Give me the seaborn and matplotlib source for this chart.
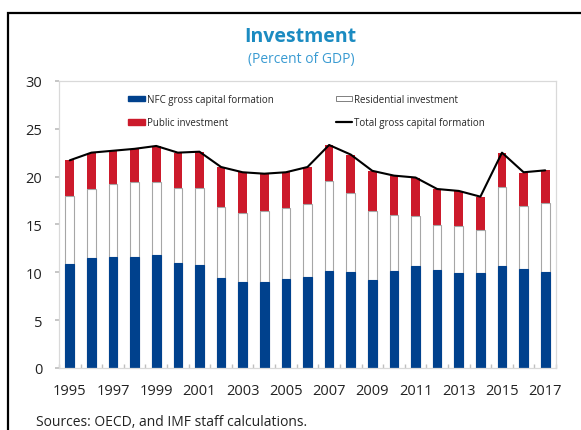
import numpy as np
import pandas as pd
import seaborn as sns
import matplotlib.pyplot as plt
from matplotlib.patches import Patch, Rectangle
from matplotlib.lines import Line2D
from matplotlib.ticker import MultipleLocator

# data (percent of GDP)
years = list(range(1995, 2018))
nfc = [10.9, 11.5, 11.6, 11.6, 11.8, 11.0, 10.8, 9.4, 9.0, 9.0, 9.3, 9.5,
       10.1, 10.0, 9.2, 10.1, 10.7, 10.2, 9.9, 9.9, 10.7, 10.3, 10.0]
residential = [7.1, 7.2, 7.6, 7.8, 7.6, 7.8, 8.0, 7.4, 7.2, 7.4, 7.4, 7.6,
               9.4, 8.3, 7.2, 5.9, 5.2, 4.7, 4.9, 4.5, 8.2, 6.6, 7.2]
public = [3.7, 3.8, 3.5, 3.5, 3.8, 3.7, 3.8, 4.2, 4.3, 3.9, 3.8, 3.9,
          3.8, 4.0, 4.2, 4.1, 4.0, 3.8, 3.7, 3.5, 3.6, 3.5, 3.5]
total = [21.7, 22.5, 22.7, 22.9, 23.2, 22.5, 22.6, 21.0, 20.45, 20.3, 20.45, 21.0,
         23.3, 22.3, 20.6, 20.1, 19.9, 18.7, 18.5, 17.9, 22.5, 20.45, 20.65]

BLUE = '#00418d'
RED = '#cc1a2b'
EDGE = '#a6a6a6'
TITLE_BLUE = '#1b8bc1'

df = pd.DataFrame({'year': years, 'nfc': nfc, 'res': residential,
                   'pub': public, 'total': total})
df['top_res'] = df['nfc'] + df['res']
df['top_pub'] = df['top_res'] + df['pub']

sns.set_theme(style="white")
plt.rcParams['font.family'] = ['Open Sans', 'DejaVu Sans']

fig, ax = plt.subplots(figsize=(5.81, 4.31), dpi=100)
fig.subplots_adjust(left=0.1015, right=0.957, bottom=0.144, top=0.81)

# stacked bars drawn as overlaid cumulative bars
sns.barplot(data=df, x='year', y='top_pub', native_scale=True, width=0.4,
            color=RED, saturation=1, linewidth=0, ax=ax)
sns.barplot(data=df, x='year', y='top_res', native_scale=True, width=0.4,
            color='white', saturation=1, edgecolor=EDGE, linewidth=0.8, ax=ax)
sns.barplot(data=df, x='year', y='nfc', native_scale=True, width=0.4,
            color=BLUE, saturation=1, edgecolor=BLUE, linewidth=0.8, ax=ax)
sns.lineplot(data=df, x='year', y='total', color='black', linewidth=1.5, ax=ax)

ax.set_xlim(1994.5, 2017.5)
ax.set_ylim(0, 30)
ax.set_xticks(years[::2])
ax.xaxis.set_minor_locator(MultipleLocator(1, offset=0.5))
ax.set_yticks(range(0, 31, 5))
ax.set_xlabel('')
ax.set_ylabel('')
ax.tick_params(axis='x', which='major', length=0, pad=11, labelsize=10.5, colors='#222222')
ax.tick_params(axis='x', which='minor', length=3, direction='in', color='#bfbfbf', bottom=True)
ax.tick_params(axis='y', length=3, direction='out', color='#bfbfbf', pad=9,
               labelsize=10.5, labelcolor='#222222', left=True)
for s in ax.spines.values():
    s.set_color('#d9d9d9')
    s.set_linewidth(0.9)

handles = [Patch(facecolor=BLUE, edgecolor=BLUE),
           Patch(facecolor=RED, edgecolor=RED),
           Patch(facecolor='white', edgecolor='#808080', linewidth=0.7),
           Line2D([], [], color='black', linewidth=1.6)]
labels = ['NFC gross capital formation', 'Public investment',
          'Residential investment', 'Total gross capital formation']
ax.legend(handles, labels, ncol=2, loc='upper left', bbox_to_anchor=(0.13, 0.972),
          frameon=False, fontsize=7, handlelength=1.7, handleheight=0.45,
          handletextpad=0.2, columnspacing=6.4, labelspacing=1.3, borderpad=0)

fig.text(300 / 581, 1 - 37 / 431, 'Investment', ha='center', va='center',
         fontsize=14, fontweight='bold', color=TITLE_BLUE)
fig.text(301 / 581, 1 - 60 / 431, '(Percent of GDP)', ha='center', va='center',
         fontsize=10, color='#3a9bd2')
fig.text(36 / 581, 1 - 423 / 431, 'Sources: OECD, and IMF staff calculations.',
         ha='left', va='center', fontsize=10, color='#222222')

# outer frame (cropped at right and bottom as in the source image)
fig.patches.append(Rectangle((8 / 581, -0.2), 1.2, 0.2 + 1 - 14 / 431,
                             transform=fig.transFigure, fill=False,
                             edgecolor='black', linewidth=1.6))

fig.savefig('out.png', dpi=100)
